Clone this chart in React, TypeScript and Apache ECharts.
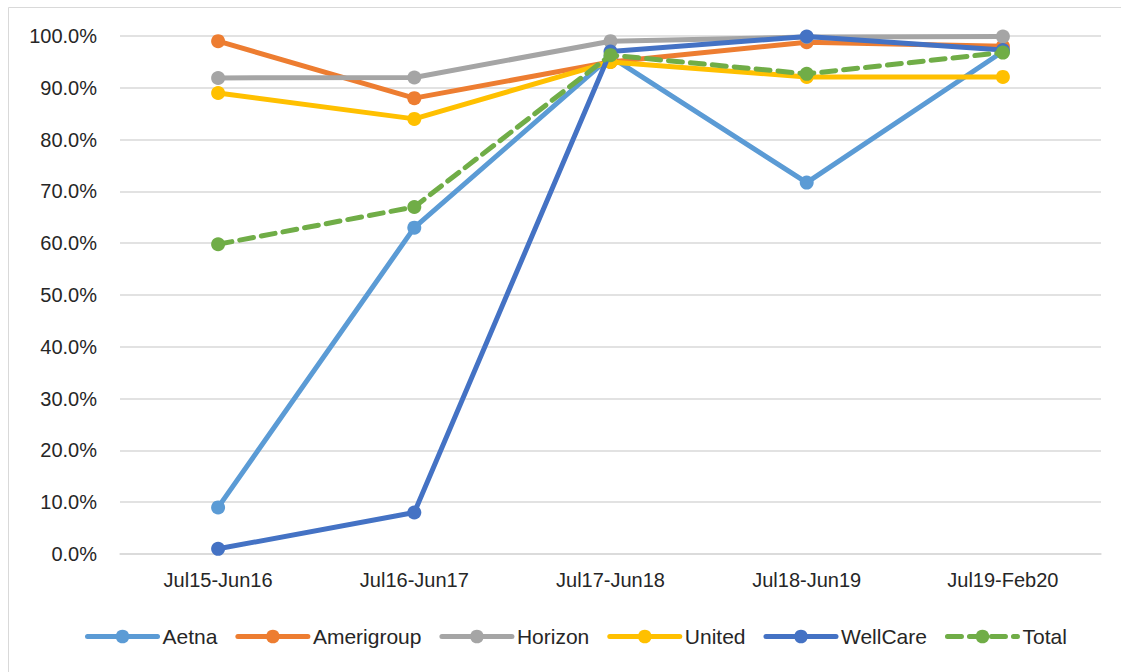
import React, { useEffect, useRef } from "react";
import * as echarts from "echarts";

const categories = ["Jul15-Jun16", "Jul16-Jun17", "Jul17-Jun18", "Jul18-Jun19", "Jul19-Feb20"];
const aetna = [0.09, 0.63, 0.96, 0.717, 0.97];
const amerigroup = [0.99, 0.88, 0.95, 0.988, 0.98];
const horizon = [0.919, 0.92, 0.99, 0.998, 0.999];
const united = [0.89, 0.84, 0.95, 0.921, 0.921];
const wellcare = [0.01, 0.08, 0.97, 0.999, 0.973];
const total = [0.598, 0.67, 0.963, 0.927, 0.968];

const seriesDefs = [
  { name: "Aetna", data: aetna, color: "#5B9BD5", dashed: false },
  { name: "Amerigroup", data: amerigroup, color: "#ED7D31", dashed: false },
  { name: "Horizon", data: horizon, color: "#A5A5A5", dashed: false },
  { name: "United", data: united, color: "#FFC000", dashed: false },
  { name: "WellCare", data: wellcare, color: "#4472C4", dashed: false },
  { name: "Total", data: total, color: "#70AD47", dashed: true },
];

const FONT = "Liberation Sans";

export default function App() {
  const ref = useRef<HTMLDivElement>(null);
  useEffect(() => {
    if (!ref.current) return;
    const chart = echarts.init(ref.current, undefined, { renderer: "svg" });
    chart.setOption({
      animation: false,
      backgroundColor: "#FFFFFF",
      textStyle: { fontFamily: FONT },
      graphic: [
        {
          type: "rect",
          shape: { x: 8.5, y: 7.5, width: 1200, height: 700 },
          style: { fill: "none", stroke: "#D9D9D9", lineWidth: 1 },
          silent: true,
        },
      ],
      grid: { left: 120, right: 20, top: 36, bottom: 118 },
      legend: {
        left: 80,
        top: 621,
        itemWidth: 70,
        itemHeight: 17,
        itemGap: 18,
        lineStyle: { width: 5 },
        textStyle: { fontFamily: FONT, fontSize: 21, color: "#262626" },
        data: seriesDefs.map((s) => s.name),
      },
      xAxis: {
        type: "category",
        data: categories,
        boundaryGap: true,
        axisLine: { show: true, lineStyle: { color: "#D9D9D9", width: 1.5 } },
        axisTick: { show: false },
        axisLabel: { fontFamily: FONT, fontSize: 20, color: "#262626", margin: 16 },
      },
      yAxis: {
        type: "value",
        min: 0,
        max: 1,
        interval: 0.1,
        axisLine: { show: false },
        axisTick: { show: false },
        splitLine: { lineStyle: { color: "#D9D9D9", width: 1.5 } },
        axisLabel: {
          fontFamily: FONT,
          fontSize: 20,
          color: "#262626",
          margin: 23,
          formatter: (v: number) => (v * 100).toFixed(1) + "%",
        },
      },
      series: seriesDefs.map((s, i) => ({
        name: s.name,
        type: "line",
        data: s.data,
        z: 2 + i,
        symbol: "circle",
        symbolSize: 14,
        itemStyle: { color: s.color },
        lineStyle: { color: s.color, width: 5, type: s.dashed ? [14, 8] : "solid", cap: "round" },
      })),
    });
    return () => chart.dispose();
  }, []);
  return (
    <div
      ref={ref}
      style={{ position: "absolute", left: 0, top: 0, width: 1121, height: 672 }}
    />
  );
}
